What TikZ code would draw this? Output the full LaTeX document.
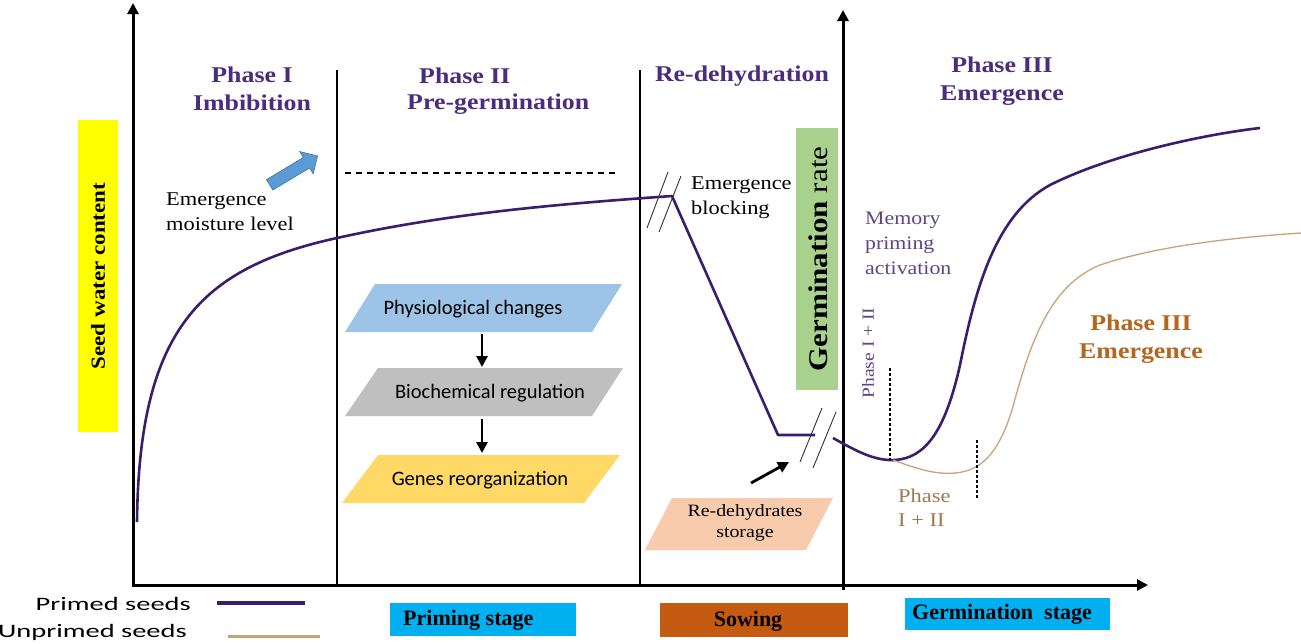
\documentclass[tikz,border=0pt]{standalone}
\usepackage{fontspec}
\usepackage{graphicx}
\setmainfont{Liberation Serif}
\newfontfamily\wideserif{Liberation Serif}[FakeStretch=1.15]
\newfontfamily\calib{Carlito}
\newfontfamily\calibwide{Carlito}[FakeStretch=1.5]
\newfontfamily\stageserif{Liberation Serif}
\usetikzlibrary{arrows.meta,shapes.arrows}
\definecolor{titlepurple}{HTML}{4B2C7E}
\definecolor{curvepurple}{HTML}{3A1E6B}
\definecolor{memorypurple}{HTML}{5E4585}
\definecolor{tancurve}{HTML}{C9A27A}
\definecolor{brownbold}{HTML}{B5651D}
\definecolor{tantext}{HTML}{9C7A50}
\definecolor{sbyellow}{HTML}{FFFF00}
\definecolor{sbgreen}{HTML}{A9D18E}
\definecolor{arrowblue}{HTML}{5B9BD5}
\definecolor{arrowblueedge}{HTML}{41719C}
\definecolor{physblue}{HTML}{9DC3E6}
\definecolor{biogray}{HTML}{BFBFBF}
\definecolor{genegold}{HTML}{FFD966}
\definecolor{storagesalmon}{HTML}{F8CBAD}
\definecolor{stagecyan}{HTML}{00B0F0}
\definecolor{sowbrown}{HTML}{C55A11}
\tikzset{
  axisline/.style={line width=3pt,-{Triangle[length=11pt,width=11pt]}},
  phaseline/.style={line width=2pt},
  titletext/.style={font=\wideserif\bfseries\fontsize{22.5}{28}\selectfont,text=titlepurple,inner sep=0pt},
  bodytext/.style={font=\wideserif\fontsize{19.5}{25}\selectfont,inner sep=0pt,align=left},
  sanstext/.style={font=\calib\fontsize{20.5}{22}\selectfont,inner sep=0pt},
  primed/.style={draw=curvepurple,line width=2.6pt},
  unprimed/.style={draw=tancurve,line width=1.3pt},
  breakmark/.style={draw=black!80,line width=0.9pt},
  stagebox/.style={font=\stageserif\bfseries\fontsize{22}{24}\selectfont,inner sep=0pt},
  flowarrow/.style={line width=2.8pt,-{Triangle[length=11pt,width=11pt]}},
  guideline/.style={line width=1.6pt,densely dashed}
}
\begin{document}
\begin{tikzpicture}[x=1pt,y=-1pt]
\useasboundingbox (0,0) rectangle (1301,643);
\fill[white] (0,0) rectangle (1301,643);

% side colour bars
\fill[sbyellow] (78,120) rectangle (118,432);
\node[rotate=90,font=\wideserif\bfseries\fontsize{20}{24}\selectfont,inner sep=0pt] (swc) at (98,276) {Seed water content};
\fill[sbgreen] (796,128) rectangle (838,390);
\node[rotate=90,font=\wideserif\fontsize{27}{30}\selectfont,inner sep=0pt] (gr) at (818,259) {\textbf{Germination} rate};

% phase separators
\coordinate (s1t) at (337,70); \coordinate (s1b) at (337,585);
\coordinate (s2t) at (640,70); \coordinate (s2b) at (640,585);
\draw[phaseline] (s1t) -- (s1b);
\draw[phaseline] (s2t) -- (s2b);

% axes
\coordinate (o) at (133,585);
\coordinate (ytop) at (133,3);
\coordinate (xend) at (1148,585);
\coordinate (y2b) at (843,590);
\coordinate (y2t) at (843,10);
\draw[axisline] (133,587) -- (ytop);
\draw[axisline] (131.5,585) -- (xend);
\draw[axisline] (y2b) -- (y2t);

% titles
\node[titletext,align=center] (p1) at (252,89) {Phase I\\Imbibition};
\node[titletext,anchor=west] (p2a) at (419,76) {Phase II};
\node[titletext,anchor=west] (p2b) at (407,104) {Pre-germination};
\node[titletext] (p3) at (742,76) {Re-dehydration};
\node[titletext,align=center] (p4) at (1002,81) {Phase III\\Emergence};

% blue arrow
\node[single arrow,fill=arrowblue,draw=arrowblueedge,line width=0.6pt,minimum height=56pt,minimum width=26pt,inner sep=5pt,single arrow head extend=6pt,rotate=31] (barrow) at (291,172) {};

% dashed moisture level
\coordinate (dl) at (345,173); \coordinate (dr) at (618,173);
\draw[line width=1.3pt,dash pattern=on 6pt off 5pt] (dl) -- (dr);

\node[bodytext,anchor=north west] (eml) at (166,193) {Emergence\\moisture level};
\node[bodytext,anchor=north west] (eb) at (691,177) {Emergence\\blocking};

% primed curve, left part
\draw[primed,line join=round] (137,522) .. controls (139,330) and (200,268) .. (337,238)
   .. controls (450,213) and (560,204) .. (672,196) -- (778,435) -- (815,435);
% breaks
\draw[breakmark] (647,228) -- (668,172);
\draw[breakmark] (659,232) -- (681,176);
\draw[breakmark] (800,462) -- (822,408);
\draw[breakmark] (813,468) -- (836,412);

% primed curve, right part
\draw[primed] (833,438) .. controls (858,452) and (875,461) .. (895,460)
   .. controls (925,458) and (945,432) .. (960,365)
   .. controls (975,290) and (995,215) .. (1050,185)
   .. controls (1110,155) and (1200,135) .. (1260,128);
% unprimed curve
\draw[unprimed] (893,460) .. controls (915,468) and (935,475) .. (955,473)
   .. controls (980,471) and (998,455) .. (1012,410)
   .. controls (1032,335) and (1052,285) .. (1100,265)
   .. controls (1160,245) and (1240,237) .. (1301,233);

% guide lines
\coordinate (g1t) at (890,368); \coordinate (g1b) at (890,460);
\coordinate (g2t) at (977,440); \coordinate (g2b) at (977,498);
\draw[guideline] (g1t) -- (g1b);
\draw[guideline] (g2t) -- (g2b);

\node[bodytext,text=memorypurple,anchor=north west,font=\wideserif\fontsize{19}{25}\selectfont] (mem) at (865,212) {Memory\\priming\\activation};
\node[rotate=90,font=\wideserif\fontsize{17}{20}\selectfont,text=memorypurple,inner sep=0pt] (ph12a) at (868,353) {Phase I + II};
\node[titletext,text=brownbold,align=center] (p3b) at (1141,339) {Phase III\\Emergence};
\node[bodytext,text=tantext,anchor=north west,font=\wideserif\fontsize{19.5}{24}\selectfont] (ph12b) at (898,489) {Phase\\I + II};

% flow parallelograms
\fill[physblue] (375,284) -- (622,284) -- (592,332) -- (345,332) -- cycle;
\node[sanstext] (phys) at (473,309) {Physiological changes};
\fill[biogray] (378,368) -- (623,368) -- (592,416) -- (345,416) -- cycle;
\node[sanstext] (bio) at (490,393) {Biochemical regulation};
\fill[genegold] (378,455) -- (620,455) -- (584,503) -- (342,503) -- cycle;
\node[sanstext] (gene) at (480,480) {Genes reorganization};
\draw[flowarrow] (482,334) -- (482,367);
\draw[flowarrow] (482,419) -- (482,453);

% storage
\fill[storagesalmon] (672,498) -- (833,498) -- (806,550) -- (645,550) -- cycle;
\node[font=\wideserif\fontsize{17.3}{21}\selectfont,align=center,inner sep=0pt] (stor) at (745,523) {Re-dehydrates\\storage};
\coordinate (sa) at (751,483);
\coordinate (sb) at (789,462);
\draw[flowarrow] (sa) -- (sb);

% legend
\node[font=\calibwide\fontsize{19}{22}\selectfont,inner sep=0pt,anchor=east] (lp) at (191,604) {Primed seeds};
\node[font=\calibwide\fontsize{19}{22}\selectfont,inner sep=0pt,anchor=east] (lu) at (187,632) {Unprimed seeds};
\draw[draw=curvepurple,line width=3.5pt] (217,603) -- (305,603);
\draw[draw=tancurve,line width=3pt] (228,636) -- (320,636);

% stage boxes
\fill[stagecyan] (390,603) rectangle (576,636);
\node[stagebox,anchor=west] (ps) at (403,620) {Priming stage};
\fill[sowbrown] (660,603) rectangle (848,637);
\node[stagebox] (sw) at (748,621) {Sowing};
\fill[stagecyan] (905,598) rectangle (1110,630);
\node[stagebox,anchor=west] (gs) at (912,614) {Germination\ \ stage};
\end{tikzpicture}
\end{document}
